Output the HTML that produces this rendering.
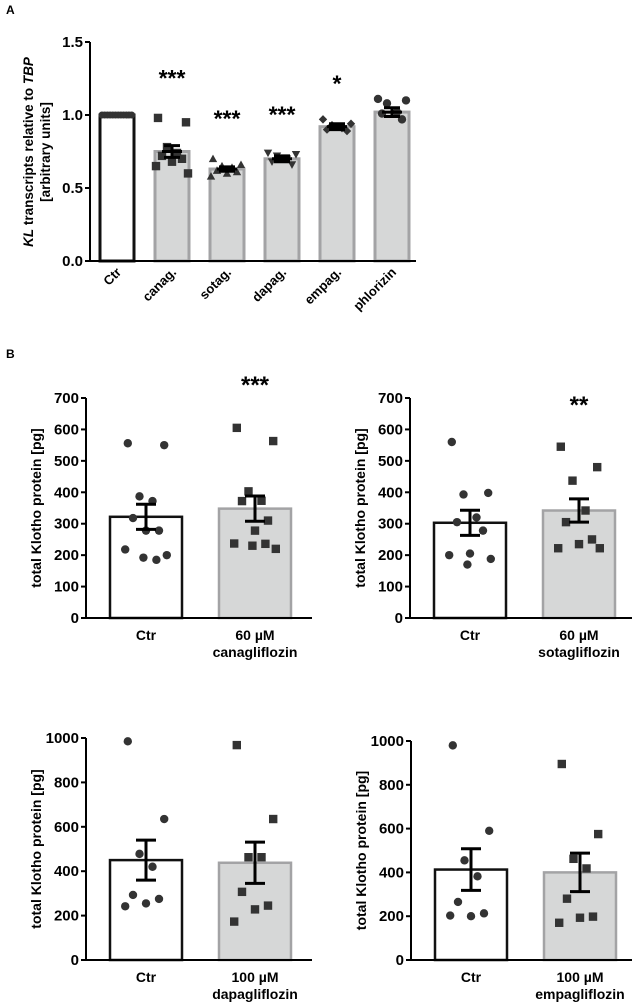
<!DOCTYPE html>
<html><head><meta charset="utf-8"><style>
html,body{margin:0;padding:0;background:#fff}
svg{display:block;font-family:"Liberation Sans",Arial,sans-serif;font-weight:bold}
</style></head><body>
<svg id="fig" width="632" height="1004" viewBox="0 0 632 1004">
<text x="6" y="14" font-size="12">A</text>
<text x="6" y="358" font-size="12">B</text>
</svg>
<script>
// Panel A data
const aCats = ["Ctr","canag.","sotag.","dapag.","empag.","phlorizin"];
const aMeans = [1.0,0.75,0.63,0.70,0.92,1.02];
const aSem = [0,0.04,0.015,0.02,0.02,0.03];
const aStars = ["","***","***","***","*",""];
const aStarLevel = [0,1.20,0.92,0.95,1.16,0];
const aTicks = [0,0.5,1.0,1.5];
const aPoints = [
 [1,1,1,1,1,1,1,1,1,1,1,1],
 [0.98,0.95,0.78,0.74,0.72,0.70,0.68,0.65,0.60],
 [0.70,0.66,0.65,0.64,0.62,0.61,0.60,0.58],
 [0.74,0.73,0.72,0.70,0.68,0.66],
 [0.97,0.94,0.93,0.91,0.90,0.89],
 [1.11,1.10,1.08,1.02,1.01,0.97]
];
const aMarkers = ["circle","square","tri-up","tri-down","diamond","circle"];

// Panel B data
const b1Cats = [["Ctr"],["60 µM","canagliflozin"]];
const b1Means = [322,348];
const b1Sem = [40,40];
const b1Ticks = [0,100,200,300,400,500,600,700];
const b1Ctr = [556,550,387,372,318,278,278,218,200,192,185];
const b1Trt = [605,563,403,373,372,310,278,237,220,230,236];
const b1Star = "***";

const b2Cats = [["Ctr"],["60 µM","sotagliflozin"]];
const b2Means = [303,342];
const b2Sem = [40,37];
const b2Ticks = [0,100,200,300,400,500,600,700];
const b2Ctr = [560,398,393,320,305,278,205,200,188,170];
const b2Trt = [545,480,437,342,305,250,235,222,222];
const b2Star = "**";

const b3Cats = [["Ctr"],["100 µM","dapagliflozin"]];
const b3Means = [450,438];
const b3Sem = [90,93];
const b3Ticks = [0,200,400,600,800,1000];
const b3Ctr = [985,635,478,420,293,275,255,242];
const b3Trt = [968,635,463,463,307,245,228,173];
const b3Star = "";

const b4Cats = [["Ctr"],["100 µM","empagliflozin"]];
const b4Means = [413,400];
const b4Sem = [95,88];
const b4Ticks = [0,200,400,600,800,1000];
const b4Ctr = [980,590,455,382,265,213,200,203];
const b4Trt = [895,575,462,418,280,198,193,170];
const b4Star = "";

const NS="http://www.w3.org/2000/svg";
const svg=document.getElementById('fig');
function mk(tag,attrs,parent,text){const e=document.createElementNS(NS,tag);for(const k in attrs)e.setAttribute(k,attrs[k]);if(text!==undefined)e.textContent=text;(parent||svg).appendChild(e);return e;}
const JIT=[-14,14,-5,5,-10,10,0,-16,16,-2,8,-8];

function marker(g,type,cx,cy,s){
  let e;
  if(type==="circle") e=mk('circle',{cx:cx,cy:cy,r:s,fill:'#333'},g);
  else if(type==="square") e=mk('rect',{x:cx-s,y:cy-s,width:2*s,height:2*s,fill:'#333'},g);
  else if(type==="tri-up") e=mk('polygon',{points:`${cx},${cy-s} ${cx-s},${cy+s*0.8} ${cx+s},${cy+s*0.8}`,fill:'#333'},g);
  else if(type==="tri-down") e=mk('polygon',{points:`${cx},${cy+s} ${cx-s},${cy-s*0.8} ${cx+s},${cy-s*0.8}`,fill:'#333'},g);
  else e=mk('polygon',{points:`${cx},${cy-s} ${cx+s},${cy} ${cx},${cy+s} ${cx-s},${cy}`,fill:'#333'},g);
  
  
}

// ---- Panel A ----
(function(){
  const g=mk('g',{});
  
  
  const ax=90, y0=261, yTop=42, vmax=1.5;
  const y=v=>y0-(v/vmax)*(y0-yTop);
  const x0=117, step=55, bw=34;
  const xc=i=>x0+i*step;
  aCats.forEach((c,i)=>{
    const b=mk('rect',{x:xc(i)-bw/2,y:y(aMeans[i]),width:bw,height:y0-y(aMeans[i]),fill:i?'#d6d7d7':'#fff',stroke:i?'#a3a3a5':'#111','stroke-width':3},g);
    
    
    aPoints[i].forEach((v,j)=>marker(g,aMarkers[i],i===0?xc(i)-15+j*2.7:xc(i)+JIT[j%JIT.length]*1.0,y(v),i===0?3.5:4.2));
    if(aSem[i]>0){
      const yh=y(aMeans[i]+aSem[i]), yl=y(aMeans[i]-aSem[i]);
      const eb=mk('path',{d:`M${xc(i)},${yh}V${yl}M${xc(i)-8},${yh}H${xc(i)+8}M${xc(i)-8},${yl}H${xc(i)+8}M${xc(i)-10},${y(aMeans[i])}H${xc(i)+10}`,stroke:'#000','stroke-width':3,fill:'none'},g);
      
      
    }
    if(aStars[i]){const s=mk('text',{x:xc(i),y:y(aStarLevel[i]),'font-size':23,'text-anchor':'middle'},g,aStars[i]);
      }
    const t=mk('text',{x:0,y:0,'font-size':13,'text-anchor':'end',transform:`translate(${xc(i)+5},${y0+12}) rotate(-45)`},g,c);
    
    
  });
  const axl=mk('path',{d:`M${ax},${yTop}V${y0}M${ax-4},${y0}H${xc(5)+24}`,stroke:'#000','stroke-width':2,fill:'none'},g);
  
  
  aTicks.forEach(v=>{
    mk('line',{x1:ax-5,x2:ax,y1:y(v),y2:y(v),stroke:'#000','stroke-width':2},g);
    const t=mk('text',{x:ax-7,y:y(v)+5,'font-size':15,'text-anchor':'end'},g,v.toFixed(1));
    
    
  });
  const t1=mk('text',{x:0,y:0,'font-size':13.5,'text-anchor':'middle',transform:`translate(33,152) rotate(-90)`},g);
  
  
  mk('tspan',{'font-style':'italic'},t1,'KL');
  mk('tspan',{},t1,' transcripts relative to ');
  mk('tspan',{'font-style':'italic'},t1,'TBP');
  const t2=mk('text',{x:0,y:0,'font-size':13.5,'text-anchor':'middle',transform:`translate(50,152) rotate(-90)`},g,'[arbitrary units]');
  
  
})();

// ---- Panel B ----
function panelB(name,ax,yTop,y0,ticks,cats,means,sem,ctr,trt,star){
  const g=mk('g',{});
  
  
  const vmax=ticks[ticks.length-1];
  const y=v=>y0-(v/vmax)*(y0-yTop);
  const xcs=[ax+60,ax+169], bw=72;
  [ctr,trt].forEach((pts,i)=>{
    const xc=xcs[i];
    const b=mk('rect',{x:xc-bw/2,y:y(means[i]),width:bw,height:y0-y(means[i]),fill:i?'#d6d7d7':'#fff',stroke:i?'#a3a3a5':'#111','stroke-width':2.5},g);
    
    
    pts.forEach((v,j)=>marker(g,i?'square':'circle',xc+JIT[j%JIT.length]*1.3,y(v),4.2));
    const yh=y(means[i]+sem[i]), yl=y(means[i]-sem[i]);
    const eb=mk('path',{d:`M${xc},${yh}V${yl}M${xc-10},${yh}H${xc+10}M${xc-10},${yl}H${xc+10}`,stroke:'#000','stroke-width':3,fill:'none'},g);
    
    
    cats[i].forEach((line,k)=>{
      const t=mk('text',{x:xc,y:y0+22+k*17,'font-size':14,'text-anchor':'middle'},g,line);
      
      
    });
  });
  if(star){const s=mk('text',{x:xcs[1],y:yTop+(star.length===3?-5:15),'font-size':24,'text-anchor':'middle'},g,star);
    }
  const axl=mk('path',{d:`M${ax},${yTop}V${y0}M${ax-4},${y0}H${ax+226}`,stroke:'#000','stroke-width':2,fill:'none'},g);
  
  
  ticks.forEach(v=>{
    mk('line',{x1:ax-5,x2:ax,y1:y(v),y2:y(v),stroke:'#000','stroke-width':2},g);
    const t=mk('text',{x:ax-7,y:y(v)+5,'font-size':15,'text-anchor':'end'},g,String(v));
    
    
  });
  const t=mk('text',{x:0,y:0,'font-size':14,'text-anchor':'middle',transform:`translate(${ax-45},${(yTop+y0)/2}) rotate(-90)`},g,'total Klotho protein [pg]');
  
  
}
panelB('panel-b-canagliflozin',86,398,618,b1Ticks,b1Cats,b1Means,b1Sem,b1Ctr,b1Trt,b1Star);
panelB('panel-b-sotagliflozin',410,398,618,b2Ticks,b2Cats,b2Means,b2Sem,b2Ctr,b2Trt,b2Star);
panelB('panel-b-dapagliflozin',86,738,960,b3Ticks,b3Cats,b3Means,b3Sem,b3Ctr,b3Trt,b3Star);
panelB('panel-b-empagliflozin',411,741,960,b4Ticks,b4Cats,b4Means,b4Sem,b4Ctr,b4Trt,b4Star);
</script>
</body></html>
